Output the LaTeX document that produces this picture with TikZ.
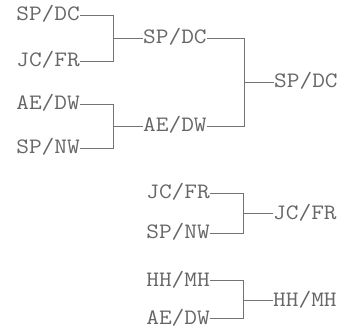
\documentclass[tikz,border=0pt]{standalone}
\usepackage{fontspec}
\newcommand\lbtext[1]{\scalebox{1.12}[1]{#1}}
\begin{document}
\begin{tikzpicture}[x=1pt,y=-1pt,
  lbl/.style={font=\ttfamily\fontsize{22}{22}\selectfont, text=black!60, inner sep=0pt},
  lft/.style={lbl, anchor=base east, yshift=-6pt},
  rgt/.style={lbl, anchor=base west, yshift=-6pt},
  conn/.style={draw=black!55, line width=0.9pt}]
\useasboundingbox[fill=white] (0,0) rectangle (348,331);
% left column
\node[lft] (a1) at (80,15) {\lbtext{SP/DC}};
\node[lft] (a2) at (80,61) {\lbtext{JC/FR}};
\node[lft] (a3) at (80,104) {\lbtext{AE/DW}};
\node[lft] (a4) at (80,148) {\lbtext{SP/NW}};
% second column
\node[rgt] (b1) at (143,38) {\lbtext{SP/DC}};
\node[rgt] (b2) at (143,126) {\lbtext{AE/DW}};
% final
\node[rgt] (c1) at (274,82) {\lbtext{SP/DC}};
% bottom groups
\node[lft] (d1) at (210,193) {\lbtext{JC/FR}};
\node[lft] (d2) at (210,233) {\lbtext{SP/NW}};
\node[rgt] (e1) at (273,213) {\lbtext{JC/FR}};
\node[lft] (f1) at (210,280) {\lbtext{HH/MH}};
\node[lft] (f2) at (210,318) {\lbtext{AE/DW}};
\node[rgt] (g1) at (273,300) {\lbtext{HH/MH}};
% connection points at mid cap height
\foreach \n in {a1,a2,a3,a4,d1,d2,f1,f2}{\coordinate (\n o) at ([yshift=6pt]\n.base east);}
\foreach \n in {b1,b2,c1,e1,g1}{\coordinate (\n i) at ([yshift=6pt]\n.base west);}
\coordinate (b1o) at ([yshift=6pt]b1.base east);
\coordinate (b2o) at ([yshift=6pt]b2.base east);
% junction columns
\coordinate (j1) at (113,0);
\coordinate (j2) at (244,0);
\coordinate (j3) at (243,0);
% connectors
\draw[conn] (a1o) -| (j1 |- b1i) -- (b1i);
\draw[conn] (a2o) -| (j1 |- b1i);
\draw[conn] (a3o) -| (j1 |- b2i) -- (b2i);
\draw[conn] (a4o) -| (j1 |- b2i);
\draw[conn] (b1o) -| (j2 |- c1i) -- (c1i);
\draw[conn] (b2o) -| (j2 |- c1i);
\draw[conn] (d1o) -| (j3 |- e1i) -- (e1i);
\draw[conn] (d2o) -| (j3 |- e1i);
\draw[conn] (f1o) -| (j3 |- g1i) -- (g1i);
\draw[conn] (f2o) -| (j3 |- g1i);
\end{tikzpicture}
\end{document}
